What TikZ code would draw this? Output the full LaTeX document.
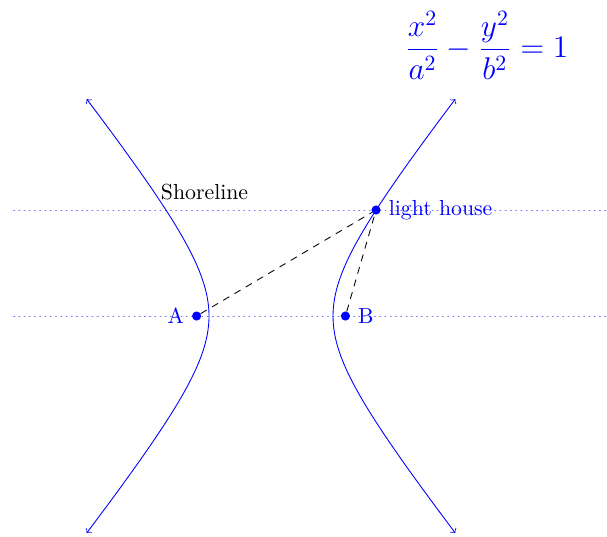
\documentclass[tikz,border=0pt]{standalone}
\usetikzlibrary{positioning}
\begin{document}
\begin{tikzpicture}[x=1cm,y=1cm,line cap=round,line join=round,>=to,
    dot/.style={circle,fill=blue,inner sep=0pt,minimum size=4.2pt},
    shore/.style={blue,<->,samples=60,smooth,domain=-3.5:3.5}]
  \useasboundingbox (-4.371,-3.548) rectangle (5.419,5.097);
  % dotted guide lines
  \draw[blue!55,dotted] (-4.15,0) -- (5.42,0);
  \draw[blue!55,dotted] (-4.15,1.71) -- (5.42,1.71);
  % the two branches, a=1, b=1.25
  \draw[shore] plot ({-sqrt(1+(\x/1.25)^2)},{\x});
  \draw[shore] plot ({sqrt(1+(\x/1.25)^2)},{\x});
  \node[dot] (A) at (-1.2,0) {};
  \node[dot] (B) at (1.2,0) {};
  \node[dot] (L) at (1.694,1.71) {};
  \node[blue,left=0pt of A] (Alab) {A};
  \node[blue,right=0pt of B] (Blab) {B};
  \node[blue,right=0pt of L] (Llab) {light house};
  \draw[dashed] (A) -- (L);
  \draw[dashed] (B) -- (L);
  \node[anchor=west] (shoreline) at (-1.9,2.0) {Shoreline};
  \node[blue] (eqn) at (3.48,4.37) {\Large $\displaystyle\frac{x^2}{a^2}-\frac{y^2}{b^2}=1$};
\end{tikzpicture}
\end{document}
